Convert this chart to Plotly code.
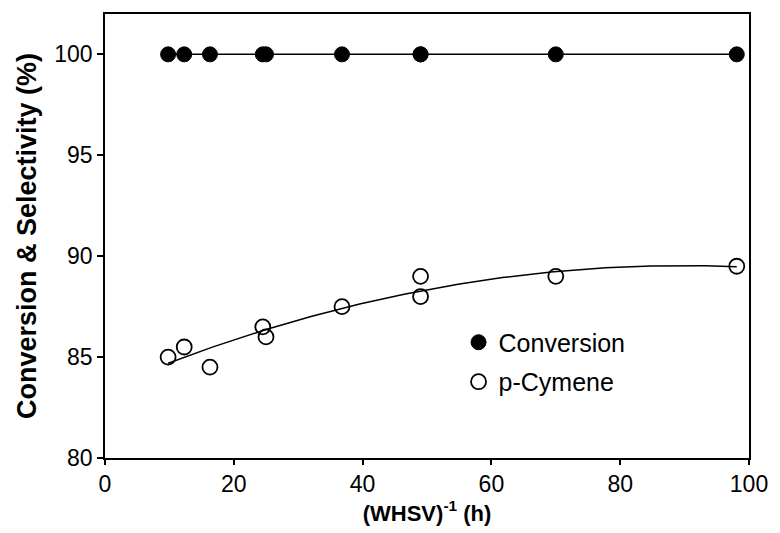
import numpy as np
import plotly.graph_objects as go

# Inverse WHSV (h) and measured values (%)
whsv_inv = [9.8, 12.3, 16.3, 24.5, 25.0, 36.8, 49.0, 49.0, 70.0, 98.1]
conversion = [100, 100, 100, 100, 100, 100, 100, 100, 100, 100]
p_cymene = [85.0, 85.5, 84.5, 86.5, 86.0, 87.5, 89.0, 88.0, 89.0, 89.5]

x_arr = np.array(whsv_inv)
# second-order trend line through the p-cymene selectivity
coef = np.polyfit(x_arr, np.array(p_cymene), 2)
x_fit = np.linspace(x_arr.min(), x_arr.max(), 200)
y_fit = np.polyval(coef, x_fit)

fig = go.Figure()

fig.add_trace(go.Scatter(
    x=[x_arr.min(), x_arr.max()], y=[100, 100], mode="lines",
    line=dict(color="black", width=1.5), showlegend=False, hoverinfo="skip"))
fig.add_trace(go.Scatter(
    x=x_fit, y=y_fit, mode="lines",
    line=dict(color="black", width=1.5), showlegend=False, hoverinfo="skip"))

fig.add_trace(go.Scatter(
    x=whsv_inv, y=conversion, mode="markers", name="Conversion",
    legendgroup="a",
    marker=dict(symbol="circle", size=15, color="black",
                line=dict(color="black", width=1))))
fig.add_trace(go.Scatter(
    x=whsv_inv, y=p_cymene, mode="markers", name="p-Cymene",
    legendgroup="b",
    marker=dict(symbol="circle-open", size=15, color="black",
                line=dict(color="black", width=1.8))))

family = "Liberation Sans, Arial, sans-serif"
tick_font = dict(family=family, size=23, color="black")

fig.update_layout(
    width=780, height=533,
    margin=dict(l=105, r=23, t=13, b=75),
    plot_bgcolor="white", paper_bgcolor="white",
    font=tick_font,
    legend=dict(x=0.549, y=0.312, xanchor="left", yanchor="top",
                bgcolor="rgba(0,0,0,0)", traceorder="grouped", tracegroupgap=4,
                font=dict(family=family, size=25, color="black"),
                itemwidth=30),
    xaxis=dict(
        range=[0, 100], tickvals=[0, 20, 40, 60, 80, 100],
        ticks="outside", ticklen=5, tickwidth=1.5, tickcolor="black",
        showline=True, linecolor="black", linewidth=1.5, mirror=True,
        showgrid=False, zeroline=False, tickfont=tick_font,
        title=dict(text="<b>(WHSV)<sup>-1</sup> (h)</b>",
                   font=dict(family=family, size=22, color="black"), standoff=6)),
    yaxis=dict(
        range=[80, 102], tickvals=[80, 85, 90, 95, 100],
        ticks="outside", ticklen=6, tickwidth=1.5, tickcolor="black",
        showline=True, linecolor="black", linewidth=1.5, mirror=True,
        showgrid=False, zeroline=False, tickfont=tick_font,
        title=dict(text="<b>Conversion & Selectivity (%)</b>",
                   font=dict(family=family, size=27, color="black"), standoff=10)),
)

fig.write_html("out.html")
